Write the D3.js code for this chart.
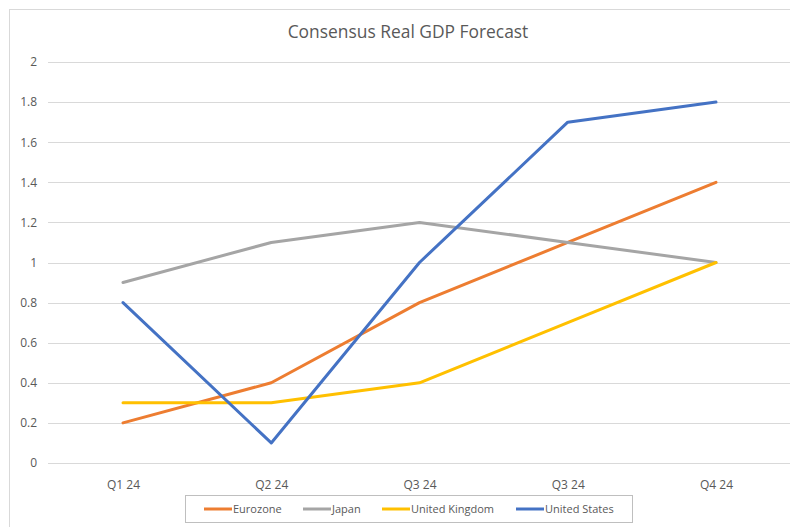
<!DOCTYPE html>
<html>
<head>
<meta charset="utf-8">
<script src="https://cdn.jsdelivr.net/npm/d3@7"></script>
<style>
  body { margin: 0; background: #fff; }
  svg { display: block; font-family: "Open Sans", "Noto Sans", sans-serif; }
</style>
</head>
<body>
<svg id="chart" width="790" height="527"></svg>
<script>
const quarters = ['Q1 24', 'Q2 24', 'Q3 24', 'Q3 24 ', 'Q4 24'];
const quarterLabels = ['Q1 24', 'Q2 24', 'Q3 24', 'Q3 24', 'Q4 24'];
const seriesNames = ['Eurozone', 'Japan', 'United Kingdom', 'United States'];
const eurozone = [0.2, 0.4, 0.8, 1.1, 1.4];
const japan = [0.9, 1.1, 1.2, 1.1, 1.0];
const unitedKingdom = [0.3, 0.3, 0.4, 0.7, 1.0];
const unitedStates = [0.8, 0.1, 1.0, 1.7, 1.8];
const yTicks = [0, 0.2, 0.4, 0.6, 0.8, 1, 1.2, 1.4, 1.6, 1.8, 2];

const colors = ['#ED7D31', '#A5A5A5', '#FFC000', '#4472C4'];
const allSeries = [eurozone, japan, unitedKingdom, unitedStates];

const svg = d3.select('#chart');

// chart area border (cut off on right / bottom like the screenshot)
svg.append('rect')
  .attr('x', 9.5).attr('y', 9.5)
  .attr('width', 800).attr('height', 540)
  .attr('fill', '#fff')
  .attr('stroke', '#d9d9d9')
  .attr('stroke-width', 1);

const x = d3.scalePoint()
  .domain(quarters)
  .range([123, 716]);

const y = d3.scaleLinear()
  .domain([0, 2])
  .range([463, 62]);

// gridlines
svg.append('g')
  .selectAll('line')
  .data(yTicks)
  .enter()
  .append('line')
  .attr('x1', 48)
  .attr('x2', 790)
  .attr('y1', d => Math.round(y(d)) + 0.5)
  .attr('y2', d => Math.round(y(d)) + 0.5)
  .attr('stroke', '#d9d9d9')
  .attr('stroke-width', 1);

// y axis labels
const yAxis = d3.axisLeft(y).tickValues(yTicks).tickSize(0).tickPadding(0).tickFormat(d3.format('~g'));
svg.append('g')
  .attr('transform', 'translate(37,0)')
  .call(yAxis)
  .call(g => g.select('.domain').remove())
  .selectAll('text')
  .attr('fill', '#595959')
  .style('font-size', '12px')
  .style('font-family', '"Open Sans", sans-serif');

// x axis labels
const xAxis = d3.axisBottom(x).tickSize(0).tickPadding(0).tickFormat((d, i) => quarterLabels[i]);
svg.append('g')
  .attr('transform', 'translate(0,480)')
  .call(xAxis)
  .call(g => g.select('.domain').remove())
  .selectAll('text')
  .attr('fill', '#595959')
  .style('font-size', '12px')
  .style('font-family', '"Open Sans", sans-serif');

// title
svg.append('text')
  .attr('x', 408)
  .attr('y', 38)
  .attr('text-anchor', 'middle')
  .attr('fill', '#595959')
  .style('font-size', '17.4px')
  .text('Consensus Real GDP Forecast');

// lines
const line = d3.line()
  .x((d, i) => x(quarters[i]))
  .y(d => y(d));

svg.append('g')
  .selectAll('path')
  .data(allSeries)
  .enter()
  .append('path')
  .attr('d', d => line(d))
  .attr('fill', 'none')
  .attr('stroke', (d, i) => colors[i])
  .attr('stroke-width', 3)
  .attr('stroke-linejoin', 'round')
  .attr('stroke-linecap', 'round');

// legend
const legend = svg.append('g');
legend.append('rect')
  .attr('x', 185.5).attr('y', 495.5)
  .attr('width', 447).attr('height', 27)
  .attr('fill', '#fff')
  .attr('stroke', '#bfbfbf');

const legendX = [204, 303, 382, 516];
const item = legend.selectAll('g.item')
  .data(seriesNames)
  .enter()
  .append('g')
  .attr('class', 'item')
  .attr('transform', (d, i) => `translate(${legendX[i]},509)`);

item.append('line')
  .attr('x1', 0).attr('x2', 28)
  .attr('stroke', (d, i) => colors[i])
  .attr('stroke-width', 3);

item.append('text')
  .attr('x', 29)
  .attr('y', 4)
  .attr('fill', '#595959')
  .style('font-size', '11px')
  .text(d => d);
</script>
</body>
</html>
